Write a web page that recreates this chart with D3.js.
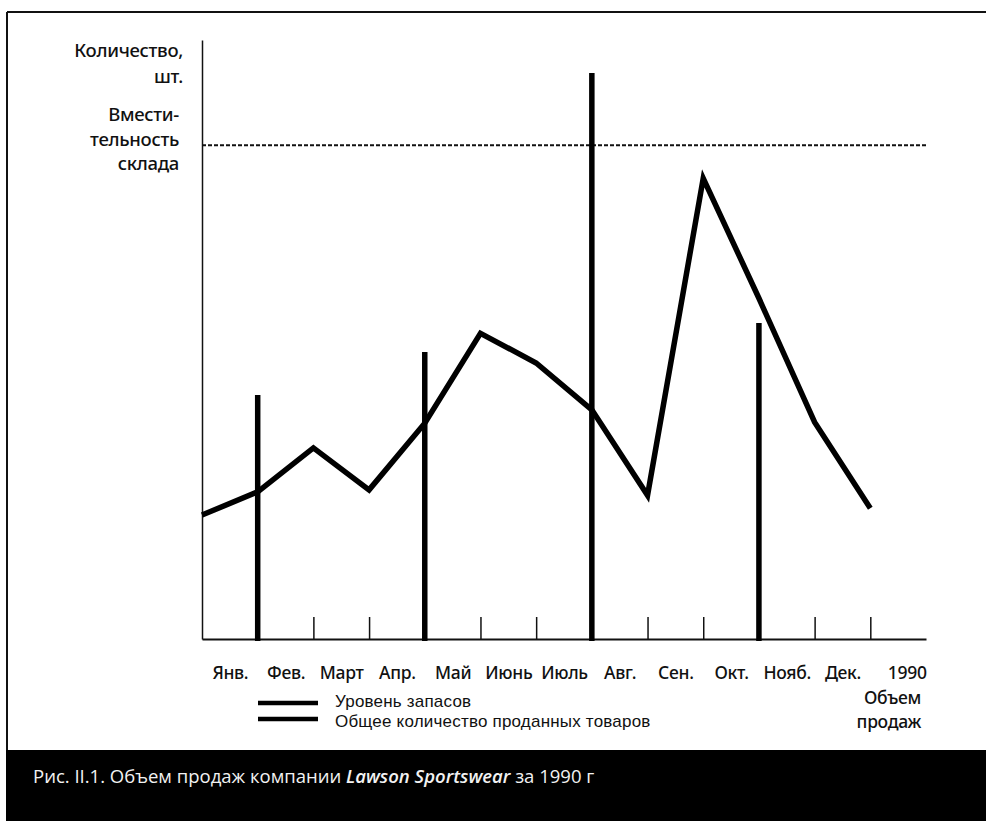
<!DOCTYPE html>
<html>
<head>
<meta charset="utf-8">
<script src="https://cdn.jsdelivr.net/npm/d3@7"></script>
<style>
  html, body { margin: 0; padding: 0; background: #fff; }
  svg { display: block; }
  text { font-family: "Noto Sans", "Open Sans", sans-serif; fill: #111; font-weight: 500; }
</style>
</head>
<body>
<div id="chart"></div>
<script>
// band labels under the x axis (12 months + year)
const monthLabels = ["Янв.", "Фев.", "Март", "Апр.", "Май", "Июнь", "Июль",
                     "Авг.", "Сен.", "Окт.", "Нояб.", "Дек.", "1990"];
// sales volume, read at each month boundary (0..12), capacity = 100
const salesIndex = [0, 1, 2, 3, 4, 5, 6, 7, 8, 9, 10, 11, 12];
const salesValues = [25.1, 29.8, 38.7, 30.2, 43.7, 61.9, 55.9, 46.4, 29.1, 93.3, 69.0, 43.9, 26.5];
// inventory level bars, at end of Jan, Apr, Jul, Oct
const stockIndex = [1, 4, 7, 10];
const stockValues = [49.4, 58.1, 114.6, 64.0];
const capacity = 100;
const tickIndex = [1, 2, 3, 4, 5, 6, 7, 8, 9, 10, 11, 12];
const legendLabels = ["Уровень запасов", "Общее количество проданных товаров"];

const width = 986, height = 821;
const svg = d3.select("#chart").append("svg")
    .attr("width", width).attr("height", height);

// frame + caption band
svg.append("line").attr("x1", 7).attr("x2", width).attr("y1", 12).attr("y2", 12)
    .attr("stroke", "#111").attr("stroke-width", 2);
svg.append("line").attr("x1", 7).attr("x2", 7).attr("y1", 12).attr("y2", 751)
    .attr("stroke", "#111").attr("stroke-width", 2);
svg.append("rect").attr("x", 6).attr("y", 750).attr("width", width - 6).attr("height", height - 750)
    .attr("fill", "#000");

const cap = svg.append("text").attr("x", 33).attr("y", 783)
    .style("font-family", "'Open Sans', sans-serif").style("font-weight", "400")
    .style("font-size", "18.5px").style("fill", "#f2f2f2");
cap.append("tspan").text("Рис. II.1. Объем продаж компании ");
cap.append("tspan").style("font-style", "italic").style("font-weight", "600").text("Lawson Sportswear");
cap.append("tspan").text(" за 1990 г");

const x = d3.scaleLinear().domain([0, 13]).range([202, 926]);
const y = d3.scaleLinear().domain([0, 121.3]).range([639, 40]);

// y axis (no ticks)
svg.append("g").attr("transform", "translate(202,0)")
    .call(d3.axisLeft(y).tickValues([]).tickSizeOuter(0))
    .select(".domain").attr("stroke", "#111").attr("stroke-width", 1.5);

// x axis with upward ticks at month boundaries
const xAxis = svg.append("g").attr("transform", "translate(0,639)")
    .call(d3.axisBottom(x).tickValues(tickIndex).tickSize(-22).tickSizeOuter(0).tickFormat(""));
xAxis.select(".domain").attr("stroke", "#111").attr("stroke-width", 2);
xAxis.selectAll(".tick line").attr("stroke", "#111").attr("stroke-width", 1.5);

// month labels centered in bands
const lab = svg.append("g").attr("transform", "translate(0,639)")
    .call(d3.axisBottom(x).tickValues(d3.range(13).map(i => i + 0.5))
        .tickSize(0).tickPadding(28).tickFormat((d, i) => monthLabels[i]));
lab.select(".domain").remove();
lab.selectAll("text").style("font-size", "17.5px").style("fill", "#111")
    .style("font-weight", "500").style("letter-spacing", "-0.3px")
    .style("font-family", "'Noto Sans', sans-serif");
lab.selectAll(".tick").filter((d, i) => i === 12).select("text")
    .attr("text-anchor", "end").attr("x", 28);

// capacity dashed line
svg.append("line")
    .attr("x1", x(0)).attr("x2", x(13))
    .attr("y1", y(capacity)).attr("y2", y(capacity))
    .attr("stroke", "#111").attr("stroke-width", 2).attr("stroke-dasharray", "4,2");

// inventory bars
svg.selectAll(".stock").data(stockValues).enter().append("line")
    .attr("class", "stock")
    .attr("x1", (d, i) => x(stockIndex[i])).attr("x2", (d, i) => x(stockIndex[i]))
    .attr("y1", y(0) + 2).attr("y2", d => y(d))
    .attr("stroke", "#000").attr("stroke-width", 5.5);

// sales line
const line = d3.line().x((d, i) => x(salesIndex[i])).y(d => y(d));
svg.append("path").datum(salesValues)
    .attr("d", line)
    .attr("fill", "none").attr("stroke", "#000").attr("stroke-width", 5.5)
    .attr("stroke-linejoin", "miter");

// y axis titles
const ytxt = [["Количество,", 57], ["шт.", 83]];
ytxt.forEach(t => svg.append("text").attr("x", 183).attr("y", t[1])
    .attr("text-anchor", "end").style("font-size", "18.5px").style("letter-spacing", "-0.3px").text(t[0]));
const ctxt = [["Вмести-", 121], ["тельность", 146], ["склада", 170]];
ctxt.forEach(t => svg.append("text").attr("x", 179).attr("y", t[1])
    .attr("text-anchor", "end").style("font-size", "18.5px").style("letter-spacing", "-0.3px").text(t[0]));

// x axis title
[["Объем", 704], ["продаж", 728]].forEach(t => svg.append("text")
    .attr("x", 921).attr("y", t[1]).attr("text-anchor", "end")
    .style("font-size", "17.5px").style("letter-spacing", "-0.3px").text(t[0]));

// legend
const leg = svg.append("g");
legendLabels.forEach((l, i) => {
  const ly = 703 + i * 16;
  leg.append("line").attr("x1", 258).attr("x2", 318).attr("y1", ly).attr("y2", ly)
      .attr("stroke", "#000").attr("stroke-width", 4.5);
  leg.append("text").attr("x", 335).attr("y", 707 + i * 20)
      .style("font-family", "'Liberation Sans', sans-serif").style("font-weight", "400")
      .style("font-size", "17px").style("letter-spacing", "0.2px").text(l);
});
</script>
</body>
</html>
